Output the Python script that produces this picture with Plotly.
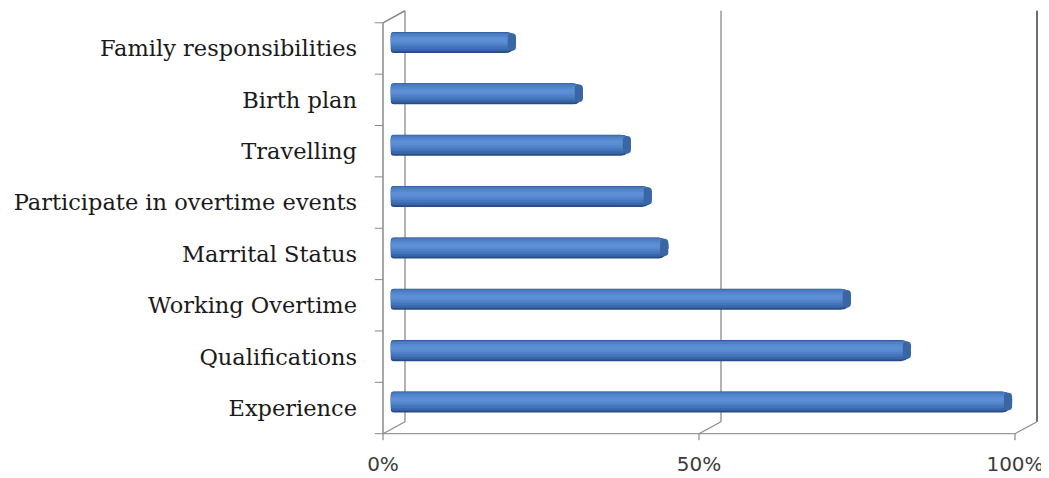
import plotly.graph_objects as go

# ---- data (top-to-bottom as shown) ----
categories = ["Family responsibilities", "Birth plan", "Travelling",
              "Participate in overtime events", "Marrital Status",
              "Working Overtime", "Qualifications", "Experience"]
values = [19.3, 29.9, 37.5, 40.8, 43.4, 72.3, 81.8, 97.8]
x_ticks = [0, 50, 100]
x_tick_labels = ["0%", "50%", "100%"]

# plot from bottom to top
cats = categories[::-1]
vals = values[::-1]
idx = list(range(len(cats)))
n = len(cats)

# pseudo-3D depth offsets (data units)
DX = 1.74
DY = 0.117
BAR_W = 0.41

fig = go.Figure()

# cylinder shading layers: (width, offset, color, radius)
layers = [
    (BAR_W, -BAR_W / 2, "#274b82", 10),
    (0.37, -0.17, "#3866a8", 9),
    (0.31, -0.12, "#4475ba", 8),
    (0.24, -0.07, "#4d80c6", 6),
    (0.16, -0.03, "#5688cf", 4),
    (0.08, 0.01, "#5e8fd5", 2),
]
for w, off, col, r in layers:
    fig.add_trace(go.Bar(
        y=idx, x=vals, orientation="h", width=w, offset=off,
        marker=dict(color=col, cornerradius=r, line=dict(width=0)),
        hoverinfo="skip", showlegend=False))
    fig.add_trace(go.Bar(
        y=idx, x=[-0.5] * n, orientation="h", width=w, offset=off,
        marker=dict(color=col, cornerradius=r, line=dict(width=0)),
        hoverinfo="skip", showlegend=False))

# darker end face of the cylinder
fig.add_trace(go.Bar(
    y=idx, x=[1.3] * n, base=[v - 1.3 for v in vals], orientation="h",
    width=0.34, offset=-0.16,
    marker=dict(color="#3a67a3", cornerradius=8, line=dict(width=0)),
    hoverinfo="skip", showlegend=False))

shapes = []
grey = "#8a8a8a"
y0, y1 = -0.5, n - 0.5
# left wall
shapes.append(dict(type="line", x0=-DX, x1=-DX, y0=y0 - DY, y1=y1 - DY,
                   line=dict(color=grey, width=1.5)))
shapes.append(dict(type="line", x0=-DX, x1=DX, y0=y1 - DY, y1=y1 + DY,
                   line=dict(color=grey, width=1.5)))
for k in range(n + 1):
    yy = k - 0.5 - DY
    shapes.append(dict(type="line", x0=-DX - 1.3, x1=-DX, y0=yy, y1=yy,
                       line=dict(color=grey, width=1)))
# floor front edge
shapes.append(dict(type="line", x0=-DX, x1=x_ticks[-1] - DX, y0=y0 - DY, y1=y0 - DY,
                   line=dict(color="#9a9a9a", width=1.2)))
# back wall gridlines + floor diagonals + ticks
for i, v in enumerate(x_ticks):
    col = "#6e6e6e" if i == len(x_ticks) - 1 else grey
    wd = 2 if i == len(x_ticks) - 1 else 1.3
    shapes.append(dict(type="line", x0=v + DX, x1=v + DX, y0=y0 + DY, y1=y1 + DY,
                       line=dict(color=col, width=wd)))
    shapes.append(dict(type="line", x0=v + DX, x1=v - DX, y0=y0 + DY, y1=y0 - DY,
                       line=dict(color=grey, width=1.2)))
    shapes.append(dict(type="line", x0=v - DX, x1=v - DX, y0=y0 - DY, y1=y0 - 2.1 * DY,
                       line=dict(color=grey, width=1.2)))
for s in shapes:
    s["layer"] = "below"
    s["xref"] = "x"
    s["yref"] = "y"

# the page body has an 8px margin, so the figure is placed at (8, 8)
fig.update_layout(
    width=1041, height=470,
    margin=dict(l=362, r=4, t=0, b=33),
    paper_bgcolor="white", plot_bgcolor="white",
    barmode="overlay",
    shapes=shapes,
    xaxis=dict(range=[-3.797, 103.006], showgrid=False, zeroline=False,
               showline=False, tickmode="array",
               tickvals=[v - DX for v in x_ticks], ticktext=x_tick_labels,
               ticks="", ticklabelstandoff=5,
               tickfont=dict(family="DejaVu Sans", size=20, color="#3c3c3c")),
    yaxis=dict(range=[-0.837, 7.671], showgrid=False, zeroline=False,
               showline=False, tickmode="array",
               tickvals=[i - DY for i in idx], ticktext=cats,
               ticks="", ticklabelstandoff=12,
               tickfont=dict(family="DejaVu Serif", size=22.5, color="#1a1a1a")),
)

fig.write_html("out.html")
